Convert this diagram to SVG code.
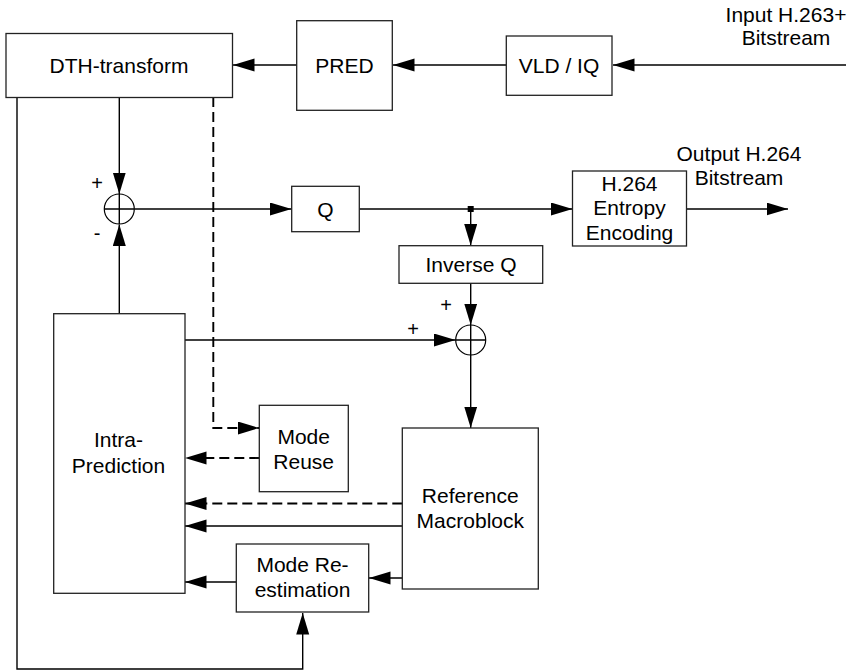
<svg xmlns="http://www.w3.org/2000/svg" width="852" height="671" viewBox="0 0 852 671">
<defs>
<marker id="ah" markerUnits="userSpaceOnUse" markerWidth="23" markerHeight="14" refX="21.5" refY="6.5" orient="auto">
<path d="M0,0 L21.5,6.5 L0,13 z" fill="#000"/>
</marker>
<style>
.box{fill:#fff;stroke:#222;stroke-width:1.3}
.t{font-family:"Liberation Sans",Arial,sans-serif;font-size:21px;fill:#000;text-anchor:middle}
.s{font-family:"Liberation Sans",Arial,sans-serif;font-size:20px;fill:#000;text-anchor:middle}
.ln{fill:none;stroke:#000;stroke-width:1.4}
.arr{marker-end:url(#ah)}
.d{stroke-dasharray:10,5;stroke-width:1.9}
.sum{fill:#fff;stroke:#000;stroke-width:1.2}
</style>
</defs>
<rect width="852" height="671" fill="#fff"/>
<g id="connectors">
<path class="ln arr" d="M846,65 H613"/>
<path class="ln arr" d="M506,65 H393"/>
<path class="ln arr" d="M297,65 H233"/>
<path class="ln arr" d="M119.3,97 V194"/>
<path class="ln arr" d="M119.3,314 V224.5"/>
<path class="ln arr" d="M134.5,209 H291.5"/>
<path class="ln arr" d="M359,209 H572.5"/>
<path class="ln arr" d="M686.5,209 H788"/>
<path class="ln arr" d="M470.7,209 V245.5"/>
<rect x="467.7" y="206" width="6" height="6" fill="#000"/>
<path class="ln arr" d="M470.7,283 V325"/>
<path class="ln arr" d="M185,340 H455.5"/>
<path class="ln arr" d="M470.7,355 V428"/>
<path class="ln arr d" d="M213.3,97 V428 H259.3"/>
<path class="ln arr d" d="M259.3,458 H185"/>
<path class="ln arr d" d="M402.3,503.5 H185"/>
<path class="ln arr" d="M402.3,526 H185"/>
<path class="ln arr" d="M402.3,578 H369"/>
<path class="ln arr" d="M236.3,582 H185"/>
<path class="ln arr" d="M17,97 V669 H302.7 V613"/>
</g>
<g id="sum1">
<circle class="sum" cx="119.3" cy="209" r="15"/>
<path class="ln" d="M104.3,209 H134.3 M119.3,194 V224"/>
<text class="s" x="97" y="190">+</text>
<text class="s" x="97" y="240">-</text>
</g>
<g id="sum2">
<circle class="sum" cx="470.7" cy="340" r="15"/>
<path class="ln" d="M455.7,340 H485.7 M470.7,325 V355"/>
<text class="s" x="446" y="312">+</text>
<text class="s" x="413" y="336">+</text>
</g>
<g id="dth">
<rect class="box" x="6" y="33.5" width="226.5" height="64"/>
<text class="t" x="119" y="72.5">DTH-transform</text>
</g>
<g id="pred">
<rect class="box" x="296.7" y="20.7" width="95.6" height="89.6"/>
<text class="t" x="344.5" y="72.5">PRED</text>
</g>
<g id="vld">
<rect class="box" x="506.3" y="36" width="105.7" height="59.3"/>
<text class="t" x="559" y="72.5">VLD / IQ</text>
</g>
<g id="input-label">
<text class="t" x="786" y="22">Input H.263+</text>
<text class="t" x="786" y="45">Bitstream</text>
</g>
<g id="q">
<rect class="box" x="291.7" y="186.3" width="67.6" height="45.4"/>
<text class="t" x="325.5" y="216.5">Q</text>
</g>
<g id="entropy">
<rect class="box" x="572.5" y="171" width="114" height="75"/>
<text class="t" x="629.5" y="190.5">H.264</text>
<text class="t" x="629.5" y="215">Entropy</text>
<text class="t" x="629.5" y="240">Encoding</text>
</g>
<g id="output-label">
<text class="t" x="739" y="161">Output H.264</text>
<text class="t" x="739" y="185">Bitstream</text>
</g>
<g id="invq">
<rect class="box" x="399" y="245.7" width="143.7" height="37.6"/>
<text class="t" x="471" y="271.5">Inverse Q</text>
</g>
<g id="intra">
<rect class="box" x="53.7" y="313.7" width="131.3" height="279.6"/>
<text class="t" x="118.5" y="447">Intra-</text>
<text class="t" x="118.5" y="472.5">Prediction</text>
</g>
<g id="modereuse">
<rect class="box" x="259.3" y="405.3" width="89" height="86.4"/>
<text class="t" x="303.7" y="443.5">Mode</text>
<text class="t" x="303.7" y="468.5">Reuse</text>
</g>
<g id="refmb">
<rect class="box" x="402.3" y="428" width="136" height="161"/>
<text class="t" x="470.3" y="503">Reference</text>
<text class="t" x="470.3" y="528">Macroblock</text>
</g>
<g id="modereest">
<rect class="box" x="236.3" y="544" width="132.4" height="68"/>
<text class="t" x="302.5" y="571.5">Mode Re-</text>
<text class="t" x="302.5" y="597">estimation</text>
</g>
</svg>
